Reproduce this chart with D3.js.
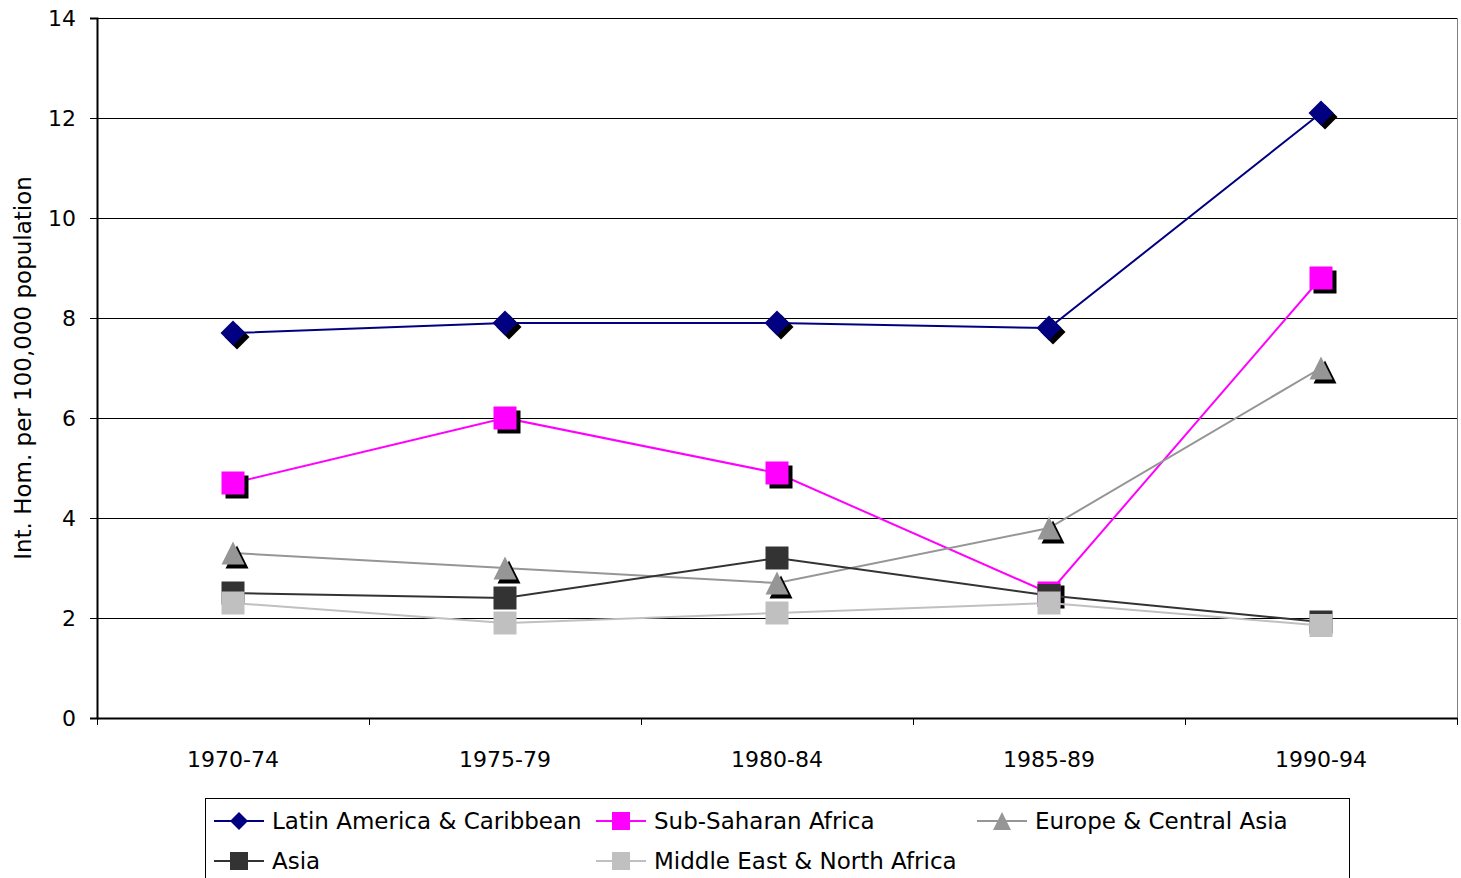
<!DOCTYPE html>
<html><head><meta charset="utf-8">
<script src="https://cdn.jsdelivr.net/npm/d3@7/dist/d3.min.js"></script>
<style>body{margin:0;background:#fff}svg{display:block}text{font-family:"DejaVu Sans",Verdana,sans-serif}</style>
</head><body>
<script>
const categories = ["1970-74","1975-79","1980-84","1985-89","1990-94"];
const seriesNames = ["Latin America & Caribbean","Sub-Saharan Africa","Europe & Central Asia","Asia","Middle East & North Africa"];
const latinAmerica = [7.7, 7.9, 7.9, 7.8, 12.1];
const subSaharan = [4.7, 6.0, 4.9, 2.5, 8.8];
const europeCentralAsia = [3.3, 3.0, 2.7, 3.8, 7.0];
const asia = [2.5, 2.4, 3.2, 2.45, 1.92];
const middleEast = [2.3, 1.9, 2.1, 2.3, 1.85];
const yTicks = [0,2,4,6,8,10,12,14];

const colors = ["#000080","#FF00FF","#969696","#333333","#C0C0C0"];
const shapes = ["diamond","square","triangle","square","square"];
const shadows = [true,true,true,false,false];
const values = [latinAmerica, subSaharan, europeCentralAsia, asia, middleEast];

const W=1461,H=878;
const m={l:97,r:4,t:18,b:160};
const svg=d3.select("body").append("svg").attr("width",W).attr("height",H);
const x=d3.scaleBand().domain(categories).range([m.l,W-m.r]);
const y=d3.scaleLinear().domain([0,14]).range([H-m.b,m.t]);

// gridlines
svg.append("g").selectAll("line").data(yTicks.filter(d=>d>0)).join("line")
 .attr("x1",m.l).attr("x2",W-m.r).attr("y1",d=>y(d)).attr("y2",d=>y(d))
 .attr("stroke","#000").attr("stroke-width",1).attr("shape-rendering","crispEdges");
// right border
svg.append("line").attr("x1",W-m.r).attr("x2",W-m.r).attr("y1",m.t).attr("y2",y(0))
 .attr("stroke","#808080").attr("stroke-width",1).attr("shape-rendering","crispEdges");

// y axis
const ya=svg.append("g").attr("transform",`translate(${m.l},0)`)
 .call(d3.axisLeft(y).tickValues(yTicks).tickSize(7).tickPadding(14));
ya.select(".domain").attr("stroke-width",2);
ya.selectAll("text").attr("font-size",22).attr("fill","#000").attr("font-family","DejaVu Sans, Verdana, sans-serif");

// x axis
const xa=svg.append("g").attr("transform",`translate(0,${y(0)})`)
 .call(d3.axisBottom(x).tickSize(0).tickPadding(33));
xa.select(".domain").attr("stroke-width",2);
xa.selectAll("text").attr("font-size",22).attr("fill","#000").attr("font-family","DejaVu Sans, Verdana, sans-serif");
// category boundary ticks
const bounds=categories.map(c=>x(c)).concat([x(categories[categories.length-1])+x.bandwidth()]);
svg.append("g").selectAll("line").data(bounds).join("line")
 .attr("x1",d=>d).attr("x2",d=>d).attr("y1",y(0)).attr("y2",y(0)+7)
 .attr("stroke","#000").attr("stroke-width",1).attr("shape-rendering","crispEdges");

// y label
svg.append("text").attr("transform",`translate(31,${(m.t+y(0))/2}) rotate(-90)`)
 .attr("text-anchor","middle").attr("font-size",23).text("Int. Hom. per 100,000 population");

function shapePath(s,sz){
  const h=sz/2;
  if(s==="diamond") return `M0,${-h-1}L${h+1},0L0,${h+1}L${-h-1},0Z`;
  if(s==="triangle") return `M0,${-h}L${h},${h}L${-h},${h}Z`;
  return `M${-h},${-h}H${h}V${h}H${-h}Z`;
}
const cx=c=>x(c)+x.bandwidth()/2;
const line=d3.line().x((d,i)=>cx(categories[i])).y(d=>y(d));

values.forEach((vals,si)=>{
  const g=svg.append("g");
  g.append("path").datum(vals).attr("d",line).attr("fill","none")
   .attr("stroke",colors[si]).attr("stroke-width",2);
  const pts=g.selectAll("g.pt").data(vals).join("g")
   .attr("transform",(d,i)=>`translate(${cx(categories[i])},${y(d)})`);
  if(shadows[si]) pts.append("path").attr("d",shapePath(shapes[si],23)).attr("fill","#000")
   .attr("transform","translate(4,4)");
  pts.append("path").attr("d",shapePath(shapes[si],23)).attr("fill",colors[si]);
});

// legend
const lg=svg.append("g");
lg.append("rect").attr("x",205.5).attr("y",798.5).attr("width",1144).attr("height",100)
 .attr("fill","none").attr("stroke","#000").attr("stroke-width",1);
const legPos=[[214,821],[596,821],[977,821],[214,861],[596,861]];
seriesNames.forEach((n,i)=>{
  const [lx,ly]=legPos[i];
  const g=lg.append("g").attr("transform",`translate(${lx},${ly})`);
  g.append("line").attr("x1",0).attr("x2",50).attr("y1",0).attr("y2",0)
   .attr("stroke",colors[i]).attr("stroke-width",2);
  g.append("path").attr("transform","translate(25,0)").attr("d",shapePath(shapes[i],i===0?16:18)).attr("fill",colors[i]);
  g.append("text").attr("x",58).attr("y",0).attr("dy","0.36em").attr("font-size",23).text(n);
});
</script>
</body></html>
